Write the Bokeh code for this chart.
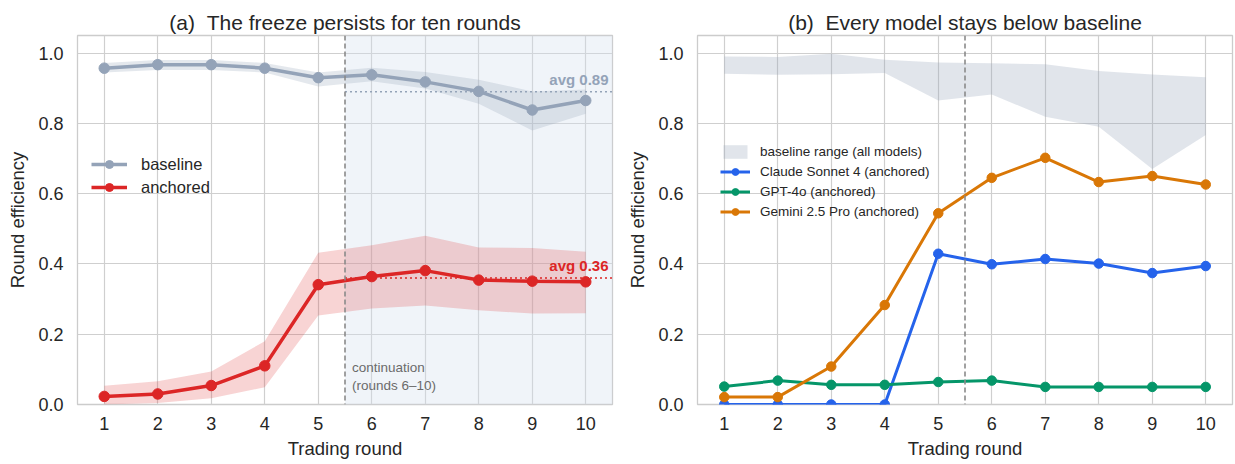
from bokeh.plotting import figure
from bokeh.layouts import row
from bokeh.models import (FixedTicker, PrintfTickFormatter, Span, BoxAnnotation,
                          Label, Legend, LegendItem, Range1d)
from bokeh.embed import file_html
from bokeh.resources import INLINE
import numpy as np

# ---------------- data ----------------
rounds = [1, 2, 3, 4, 5, 6, 7, 8, 9, 10]
x_ticks = [1, 2, 3, 4, 5, 6, 7, 8, 9, 10]
y_ticks = [0.0, 0.2, 0.4, 0.6, 0.8, 1.0]
split_round = 5.5          # boundary between original and continuation rounds
x_lo, x_hi = 0.5, 10.5
y_lo, y_hi = 0.0, 1.05

# panel (a)
baseline_mean = [0.957, 0.967, 0.967, 0.957, 0.930, 0.938, 0.918, 0.891, 0.838, 0.865]
baseline_hi   = [0.972, 0.980, 0.980, 0.972, 0.945, 0.958, 0.946, 0.924, 0.891, 0.896]
baseline_low  = [0.945, 0.952, 0.952, 0.945, 0.905, 0.920, 0.899, 0.856, 0.780, 0.827]
anchored_mean = [0.023, 0.030, 0.054, 0.110, 0.341, 0.364, 0.381, 0.354, 0.351, 0.349]
anchored_hi   = [0.053, 0.066, 0.094, 0.180, 0.432, 0.453, 0.480, 0.447, 0.445, 0.435]
anchored_low  = [0.000, 0.004, 0.018, 0.049, 0.253, 0.273, 0.282, 0.268, 0.259, 0.260]

# panel (b)
range_hi = [0.990, 0.989, 0.998, 0.981, 0.973, 0.971, 0.968, 0.949, 0.939, 0.931]
range_lo = [0.941, 0.938, 0.940, 0.943, 0.865, 0.882, 0.819, 0.790, 0.670, 0.767]
claude = [0.0, 0.0, 0.0, 0.0, 0.429, 0.399, 0.414, 0.401, 0.374, 0.394]
gpt4o  = [0.051, 0.068, 0.056, 0.056, 0.064, 0.068, 0.050, 0.050, 0.050, 0.050]
gemini = [0.021, 0.021, 0.108, 0.283, 0.544, 0.645, 0.702, 0.633, 0.650, 0.626]

# ---------------- style ----------------
FONT = "Liberation Sans"
TXT = "#262626"
GRID = "#cfcfcf"
C_BASE = "#94a3b8"
C_ANCH = "#dc2626"
C_CLAUDE = "#2563eb"
C_GPT = "#059669"
C_GEM = "#d97706"


def style(p, title):
    p.title.text = title
    p.title.align = "center"
    p.title.text_font = FONT
    p.title.text_font_size = "21px"
    p.title.text_font_style = "normal"
    p.title.text_color = TXT
    p.title.standoff = 4
    p.outline_line_color = "#cccccc"
    p.outline_line_width = 1.3
    p.background_fill_color = "white"
    p.border_fill_color = "white"
    for ax in (p.xaxis[0], p.yaxis[0]):
        ax.axis_line_color = None
        ax.major_tick_line_color = None
        ax.minor_tick_line_color = None
        ax.major_tick_out = 0
        ax.major_tick_in = 0
        ax.major_label_text_font = FONT
        ax.major_label_text_font_size = "18px"
        ax.major_label_text_color = TXT
        ax.axis_label_text_font = FONT
        ax.axis_label_text_font_size = "18.5px"
        ax.axis_label_text_font_style = "normal"
        ax.axis_label_text_color = TXT
    p.xaxis[0].ticker = FixedTicker(ticks=x_ticks)
    p.yaxis[0].ticker = FixedTicker(ticks=y_ticks)
    p.yaxis[0].formatter = PrintfTickFormatter(format="%.1f")
    p.xaxis[0].axis_label = "Trading round"
    p.yaxis[0].axis_label = "Round efficiency"
    p.xaxis[0].major_label_standoff = 12
    p.yaxis[0].major_label_standoff = 14
    p.xaxis[0].axis_label_standoff = 5
    p.yaxis[0].axis_label_standoff = 7
    p.xgrid.ticker = FixedTicker(ticks=x_ticks)
    p.ygrid.ticker = FixedTicker(ticks=y_ticks)
    p.grid.grid_line_color = GRID
    p.grid.grid_line_width = 1.2
    p.add_layout(Span(location=split_round, dimension="height", line_color="#8a8a8a",
                      line_dash="5 3", line_width=1.6))


# ---------------- panel (a) ----------------
p1 = figure(width=622, height=464, x_range=Range1d(x_lo, x_hi), y_range=Range1d(y_lo, y_hi),
            min_border_left=77, min_border_right=10, min_border_top=35, min_border_bottom=60,
            output_backend="svg", toolbar_location=None)
style(p1, "(a)\u00a0\u00a0The freeze persists for ten rounds")
p1.add_layout(BoxAnnotation(left=split_round, fill_color="#d5e0ee", fill_alpha=0.35,
                            line_color=None, level="underlay"))

p1.varea(x=rounds, y1=baseline_low, y2=baseline_hi, fill_color=C_BASE, fill_alpha=0.25)
p1.varea(x=rounds, y1=anchored_low, y2=anchored_hi, fill_color=C_ANCH, fill_alpha=0.2)

rb_l = p1.line(rounds, baseline_mean, line_color=C_BASE, line_width=3.5)
rb_s = p1.scatter(rounds, baseline_mean, size=10.5, fill_color=C_BASE, line_color=C_BASE)
ra_l = p1.line(rounds, anchored_mean, line_color=C_ANCH, line_width=3.5)
ra_s = p1.scatter(rounds, anchored_mean, size=10.5, fill_color=C_ANCH, line_color=C_ANCH)

cont_idx = [i for i, r in enumerate(rounds) if r > split_round]
for series, col in ((baseline_mean, C_BASE), (anchored_mean, C_ANCH)):
    avg = float(np.mean([series[i] for i in cont_idx]))
    p1.segment(x0=[split_round], x1=[x_hi], y0=[avg], y1=[avg], line_color=col,
               line_width=1.6, line_dash="2 3")
    p1.add_layout(Label(x=x_hi, y=avg, x_offset=-4, y_offset=4, text=f"avg {avg:.2f}",
                        text_align="right", text_baseline="bottom", text_font=FONT,
                        text_font_size="15px", text_font_style="bold", text_color=col))

p1.add_layout(Label(x=split_round, y=0.128, x_offset=7, text="continuation\n(rounds 6\u201310)",
                    text_align="left", text_baseline="top", text_font=FONT,
                    text_font_size="13.5px", text_color="#6b6b6b"))

leg1 = Legend(items=[LegendItem(label="baseline", renderers=[rb_l, rb_s]),
                     LegendItem(label="anchored", renderers=[ra_l, ra_s])],
              location=(14, 207), padding=0, margin=0, spacing=3,
              glyph_width=36, glyph_height=20, label_height=20, label_standoff=14,
              label_text_font=FONT, label_text_font_size="16.5px", label_text_color=TXT,
              border_line_color=None, background_fill_alpha=0)
p1.add_layout(leg1, "center")

# ---------------- panel (b) ----------------
p2 = figure(width=613, height=464, x_range=Range1d(x_lo, x_hi), y_range=Range1d(y_lo, y_hi),
            min_border_left=75, min_border_right=3, min_border_top=35, min_border_bottom=60,
            output_backend="svg", toolbar_location=None)
style(p2, "(b)\u00a0\u00a0Every model stays below baseline")

rr = p2.varea(x=rounds, y1=range_lo, y2=range_hi, fill_color=C_BASE, fill_alpha=0.28)
items = [LegendItem(label="baseline range (all models)", renderers=[rr])]
for series, col, name in ((claude, C_CLAUDE, "Claude Sonnet 4 (anchored)"),
                          (gpt4o, C_GPT, "GPT-4o (anchored)"),
                          (gemini, C_GEM, "Gemini 2.5 Pro (anchored)")):
    l = p2.line(rounds, series, line_color=col, line_width=3)
    s = p2.scatter(rounds, series, size=9.5, fill_color=col, line_color=col)
    items.append(LegendItem(label=name, renderers=[l, s]))

leg2 = Legend(items=items, location=(23, 184), padding=0, margin=0, spacing=3,
              glyph_width=30, glyph_height=17, label_height=17, label_standoff=10,
              label_text_font=FONT, label_text_font_size="13.5px", label_text_color=TXT,
              border_line_color=None, background_fill_alpha=0)
p2.add_layout(leg2, "center")

layout = row(p1, p2)
open("out.html", "w").write(file_html(layout, INLINE))
